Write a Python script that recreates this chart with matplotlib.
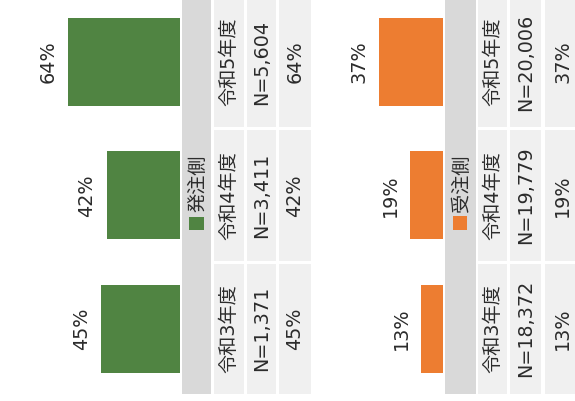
import matplotlib
matplotlib.use('Agg')
import matplotlib.pyplot as plt
from matplotlib.patches import Rectangle

# 英数字は DejaVu Sans、漢字は Noto Sans CJK JP で描く
plt.rcParams['font.family'] = ['DejaVu Sans', 'Noto Sans CJK JP']

# データ
years = ['令和5年度', '令和4年度', '令和3年度']
hacchu_n = [5604, 3411, 1371]
hacchu_pct = [64, 42, 45]
juchu_n = [20006, 19779, 18372]
juchu_pct = [37, 19, 13]

GREEN = '#508442'
ORANGE = '#ED7D31'
TXT = '#2b2b2b'
W, H = 575, 401
PX_PER_PCT = 1.75
FS = 13.8

fig = plt.figure(figsize=(W / 100, H / 100), dpi=100)

# 背景 (表のセル) はピクセル座標で描く
bg = fig.add_axes([0, 0, 1, 1], zorder=0)
bg.set_xlim(0, W)
bg.set_ylim(H, 0)
bg.axis('off')

row_top0 = -3.0
row_pitch = 133.3
row_h = 130.3
row_tops = [row_top0 + i * row_pitch for i in range(3)]
full_bottom = row_tops[-1] + row_h


def ax_rect(x0, x1, y0, y1):
    return [x0 / W, 1 - y1 / H, (x1 - x0) / W, (y1 - y0) / H]


panels = [
    dict(name='発注側', color=GREEN, n=hacchu_n, pct=hacchu_pct,
         bar_x=(0, 180), head=(182, 211),
         cols=[(214, 244), (247, 276), (279, 311)],
         sq=(189.3, 203.7, 216.5, 230), lab=(197.5, 183)),
    dict(name='受注側', color=ORANGE, n=juchu_n, pct=juchu_pct,
         bar_x=(311, 443.3), head=(445, 475.7),
         cols=[(478.3, 506.7), (510.3, 541.3), (545.3, 580)],
         sq=(452.7, 466.7, 216, 230), lab=(461, 183)),
]

for p in panels:
    # 見出し列
    h0, h1 = p['head']
    bg.add_patch(Rectangle((h0, row_top0), h1 - h0, full_bottom - row_top0,
                           facecolor='#d9d9d9', edgecolor='none'))
    sx0, sx1, sy0, sy1 = p['sq']
    bg.add_patch(Rectangle((sx0, sy0), sx1 - sx0, sy1 - sy0,
                           facecolor=p['color'], edgecolor='none'))
    bg.text(p['lab'][0], p['lab'][1], p['name'], rotation=90, ha='center',
            va='center', fontsize=FS, color=TXT)

    # 表のセル
    for i, top in enumerate(row_tops):
        texts = [years[i], f"N={p['n'][i]:,}", f"{p['pct'][i]}%"]
        for (c0, c1), t in zip(p['cols'], texts):
            bg.add_patch(Rectangle((c0, top), c1 - c0, row_h,
                                   facecolor='#f0f0f0', edgecolor='none'))
            bg.text((c0 + c1) / 2, top + row_h / 2, t, rotation=90,
                    ha='center', va='center', fontsize=FS, color=TXT)

    # 棒グラフ (左向き)
    x0, x1 = p['bar_x']
    ax = fig.add_axes(ax_rect(x0, x1, row_tops[0] + row_h / 2 - row_pitch / 2,
                              row_tops[-1] + row_h / 2 + row_pitch / 2), zorder=1)
    ax.patch.set_alpha(0)
    ypos = range(len(years))
    ax.barh(ypos, p['pct'], height=88 / row_pitch, color=p['color'])
    ax.set_xlim((x1 - x0) / PX_PER_PCT, 0)
    ax.set_ylim(2.5, -0.5)
    ax.axis('off')
    for y, v in zip(ypos, p['pct']):
        ax.annotate(f'{v}%', (v, y), xytext=(-10, 0), textcoords='offset pixels',
                    rotation=90, ha='right', va='center', fontsize=FS,
                    color=TXT)

fig.savefig('out.png', dpi=100)
